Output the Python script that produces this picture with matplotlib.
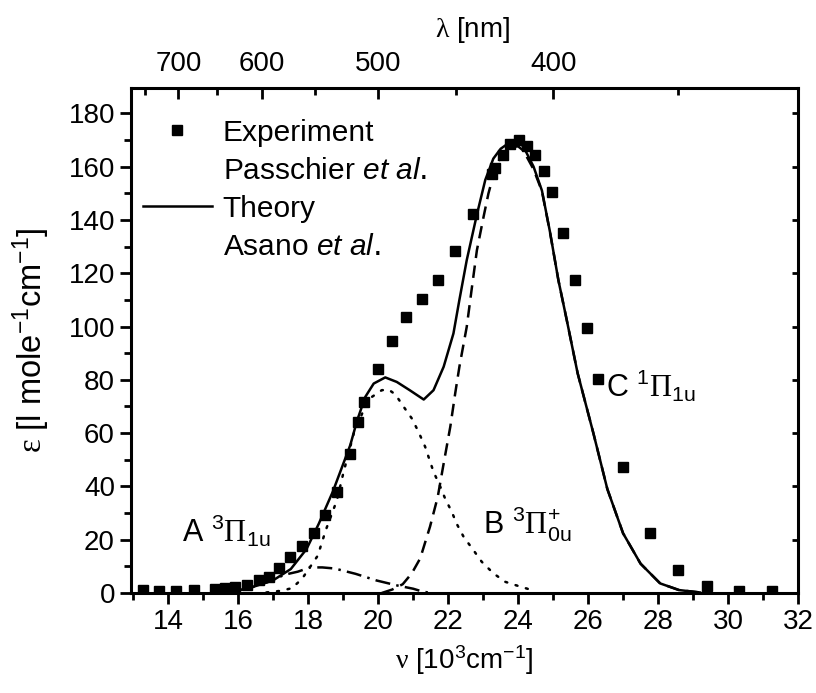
import numpy as np
import matplotlib
matplotlib.use("Agg")
import matplotlib.pyplot as plt
from matplotlib.lines import Line2D
from matplotlib.ticker import MultipleLocator, FixedLocator

plt.rcParams['font.family'] = 'Liberation Sans'
plt.rcParams['mathtext.fontset'] = 'custom'
plt.rcParams['mathtext.default'] = 'regular'
plt.rcParams['mathtext.it'] = 'Liberation Sans:italic'
plt.rcParams['mathtext.cal'] = 'Liberation Serif'   # greek letters in serif

# measured absorption (Passchier et al.)
nu_exp = [13.27, 13.72, 14.22, 14.74, 15.34, 15.63, 15.91, 16.25, 16.58, 16.89,
          17.17, 17.49, 17.83, 18.15, 18.49, 18.82, 19.18, 19.41, 19.58, 19.98,
          20.39, 20.80, 21.25, 21.72, 22.20, 22.72, 23.25, 23.34, 23.58, 23.77,
          24.01, 24.25, 24.49, 24.73, 24.97, 25.29, 25.63, 25.96, 26.29, 27.01,
          27.77, 28.58, 29.41, 30.32, 31.27]
eps_exp = [1.1, 0.7, 0.7, 1.0, 1.4, 1.8, 2.4, 3.0, 4.9, 6.1,
           9.3, 13.4, 17.6, 22.4, 29.2, 38.0, 52.1, 64.0, 71.8, 83.9,
           94.5, 103.4, 110.2, 117.4, 128.4, 142.4, 157.4, 159.3, 164.3, 168.6,
           169.9, 167.6, 164.3, 158.5, 150.3, 135.2, 117.4, 99.3, 80.2, 47.1,
           22.6, 8.6, 2.7, 0.9, 0.6]

# theory total (Asano et al.)
nu_th = [15.8, 16.4, 17.0, 17.5, 17.95, 18.3, 18.7, 19.0, 19.2, 19.4,
         19.63, 19.87, 20.2, 20.53, 20.9, 21.3, 21.58, 21.87, 22.15, 22.32,
         22.53, 22.82, 23.06, 23.29, 23.5, 23.77, 23.96, 24.15, 24.44, 24.68,
         24.91, 25.15, 25.39, 25.7, 26.15, 26.55, 27.0, 27.5, 28.06, 28.6, 29.2]
eps_th = [0.3, 2.2, 4.8, 9.0, 16.5, 26.0, 38.0, 48.5, 55.5, 64.9,
          73.6, 78.6, 80.9, 79.2, 76.1, 72.6, 76.1, 84.9, 97.4, 110.0,
          124.9, 142.0, 155.0, 163.0, 166.7, 169.2, 170.0, 167.5, 160.0, 151.0,
          135.5, 117.4, 102.4, 82.5, 60.0, 39.0, 22.4, 11.0, 3.6, 1.1, 0.2]

# A 3Pi_1u component
nu_a = [15.8, 16.4, 17.0, 17.3, 17.7, 18.05, 18.4, 18.75, 19.35, 19.95,
        20.55, 21.0, 21.25, 21.5]
eps_a = [0.3, 2.2, 4.8, 6.8, 8.0, 9.6, 9.6, 9.2, 7.2, 4.7,
         2.8, 1.6, 0.6, 0.0]

# B 3Pi+_0u component
nu_b = [16.8, 17.2, 17.53, 17.82, 18.27, 18.5, 18.82, 19.0, 19.3, 19.58,
        19.82, 20.1, 20.3, 20.49, 20.72, 20.96, 21.15, 21.34, 21.58, 21.77,
        21.91, 22.1, 22.25, 22.44, 22.72, 22.96, 23.29, 23.63, 24.01, 24.39]
eps_b = [0.2, 0.8, 1.8, 5.3, 14.0, 23.6, 34.9, 44.9, 59.9, 68.6,
         73.6, 76.1, 76.3, 74.5, 70.0, 65.5, 60.5, 54.9, 45.5, 40.0,
         35.5, 30.5, 25.8, 21.1, 16.1, 11.7, 7.4, 4.2, 2.6, 1.1]

# C 1Pi_1u component
nu_c = [20.1, 20.4, 20.7, 20.96, 21.2, 21.48, 21.7, 21.87, 22.06, 22.2,
        22.32, 22.53, 22.68, 22.82, 23.01, 23.15, 23.29, 23.49, 23.77, 24.0,
        24.15, 24.44, 24.68, 24.91, 25.15, 25.39, 25.7, 26.15, 26.55, 27.0,
        27.5, 28.06, 28.6, 29.2]
eps_c = [0.0, 1.3, 3.3, 7.4, 13.0, 24.9, 36.0, 48.6, 62.4, 74.9,
         84.9, 99.9, 114.9, 128.6, 141.1, 149.9, 156.7, 163.6, 167.3, 167.6,
         166.0, 159.0, 150.8, 135.4, 117.4, 102.4, 82.5, 60.0, 39.0, 22.4,
         11.0, 3.6, 1.1, 0.2]

fig = plt.figure(figsize=(8.16, 6.93), dpi=100)
ax = fig.add_axes([0.1605, 0.1443, 0.8174, 0.7287])

lw = 1.8
ax.plot(nu_a, eps_a, color='black', lw=lw, linestyle=(0, (6, 2.5, 1, 2.5)))
ax.plot(nu_b, eps_b, color='black', lw=lw, linestyle=(0, (0.8, 3.5)),
        dash_capstyle='round')
ax.plot(nu_c, eps_c, color='black', lw=lw, linestyle=(0, (5, 3)))
ax.plot(nu_th, eps_th, color='black', lw=lw)
ax.plot(nu_exp, eps_exp, 's', color='black', markersize=7, zorder=5)

ax.set_xlim(12.93, 32)
ax.set_ylim(0, 189.5)

ax.xaxis.set_major_locator(MultipleLocator(2))
ax.xaxis.set_minor_locator(MultipleLocator(1))
ax.yaxis.set_major_locator(MultipleLocator(20))
ax.yaxis.set_minor_locator(MultipleLocator(10))
ax.tick_params(which='both', direction='out', width=2, labelsize=20,
               top=False, right=False)
ax.tick_params(which='major', length=8)
ax.tick_params(which='minor', length=5)
for s in ax.spines.values():
    s.set_linewidth(2.2)

ax.set_xlabel(r'$\mathcal{ν}$ [10$^{3}$cm$^{-1}$]', fontsize=20, labelpad=6)
ax.set_ylabel(r'$\mathcal{ε}$ [l mole$^{-1}$cm$^{-1}$]', fontsize=23.5)
ax.yaxis.set_label_coords(-0.118, 0.5)

# wavelength scale on top
top = ax.secondary_xaxis('top', functions=(lambda v: 1e4 / np.asarray(v, float),
                                           lambda l: 1e4 / np.asarray(l, float)))
top.xaxis.set_major_locator(FixedLocator([700, 600, 500, 400]))
top.xaxis.set_minor_locator(FixedLocator([750, 650, 550, 450, 350]))
top.tick_params(which='both', direction='in', width=2, labelsize=20, pad=8)
top.tick_params(which='major', length=8)
top.tick_params(which='minor', length=5)
top.set_xlabel(r'$\mathcal{λ}$ [nm]', fontsize=20, labelpad=10)
top.xaxis.label.set_x(0.512)

right = ax.secondary_yaxis('right')
right.yaxis.set_major_locator(MultipleLocator(20))
right.tick_params(which='major', direction='in', length=4, width=2, labelright=False)
right.yaxis.set_minor_locator(FixedLocator([]))

ax.text(14.38, 19, r'A $^{3}\mathcal{Π}_{1u}$', fontsize=22)
ax.text(23.0, 22.5, r'B $^{3}\mathcal{Π}^{+}_{0u}$', fontsize=22)
ax.text(26.5, 73.5, r'C $^{1}\mathcal{Π}_{1u}$', fontsize=22)

handles = [Line2D([], [], marker='s', color='black', linestyle='none', markersize=7),
           Line2D([], [], linestyle='none'),
           Line2D([], [], color='black', lw=lw),
           Line2D([], [], linestyle='none')]
labels = ['Experiment', r'Passchier $\mathit{et\ al.}$', 'Theory', r'Asano $\mathit{et\ al.}$']
ax.legend(handles, labels, loc='upper left', bbox_to_anchor=(0.0, 0.963),
          frameon=False, fontsize=21.5, handlelength=2.3, handletextpad=0.37,
          labelspacing=0.34, borderaxespad=0.0)

fig.savefig('out.png', dpi=100)
